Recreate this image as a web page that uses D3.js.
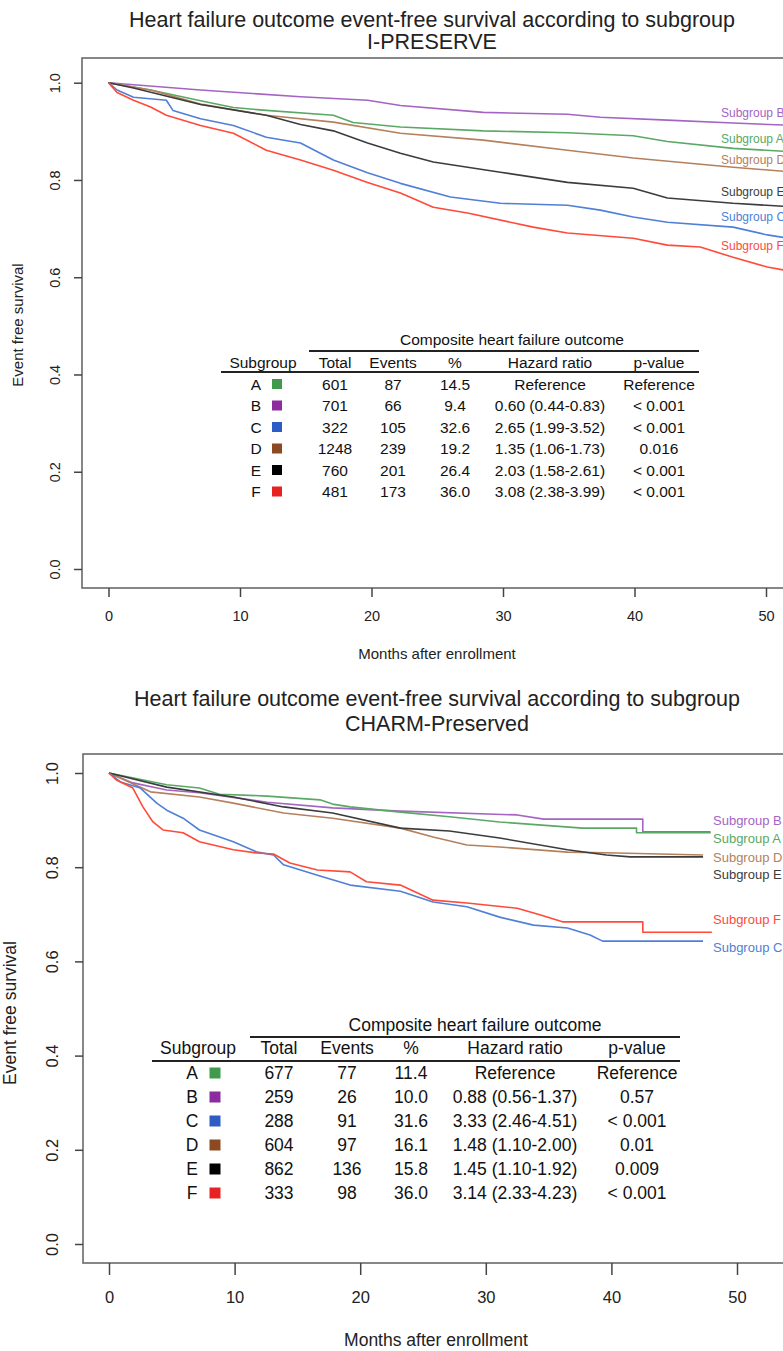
<!DOCTYPE html>
<html>
<head>
<meta charset="utf-8">
<script src="https://cdn.jsdelivr.net/npm/d3@7"></script>
<style>
  body { margin: 0; background: #fff; }
  svg { display: block; font-family: "Liberation Sans", Arial, sans-serif; }
</style>
</head>
<body>
<svg id="chart" width="783" height="1351"></svg>
<script>
// ---- data ----
var subgroups = ["A", "B", "C", "D", "E", "F"];
var xTicks = [0, 10, 20, 30, 40, 50];
var yTicks = [0.0, 0.2, 0.4, 0.6, 0.8, 1.0];
var tableCols = ["Subgroup", "Total", "Events", "%", "Hazard ratio", "p-value"];

// I-PRESERVE : [month, survival]
var ipA = [[0,1],[3.2,0.985],[7,0.963],[9.5,0.949],[12,0.943],[17.1,0.933],[18.6,0.918],[22.2,0.909],[28.5,0.901],[34.9,0.897],[39.9,0.891],[42.5,0.879],[47.5,0.865],[51.3,0.859],[52.5,0.857]];
var ipB = [[0,1],[7,0.985],[14.6,0.971],[19.7,0.964],[22.2,0.953],[28.5,0.939],[34.9,0.935],[37.4,0.929],[42.5,0.923],[47.5,0.917],[51.3,0.913],[52.5,0.912]];
var ipC = [[0,1],[0.65,0.985],[1.9,0.970],[4.4,0.964],[4.9,0.943],[7,0.926],[9.5,0.912],[12,0.888],[14.6,0.876],[17.1,0.841],[19.7,0.815],[22.2,0.793],[26,0.765],[29.8,0.752],[34.9,0.748],[37.4,0.738],[39.9,0.724],[42.5,0.713],[47.5,0.703],[50.1,0.687],[51.3,0.682],[52.5,0.680]];
var ipD = [[0,1],[3.2,0.985],[7,0.956],[12,0.933],[17.1,0.919],[22.2,0.896],[28.5,0.882],[34.9,0.861],[39.9,0.845],[47.5,0.826],[51.3,0.818],[52.5,0.816]];
var ipE = [[0,1],[1.9,0.989],[7,0.955],[12,0.933],[14.6,0.914],[17.1,0.901],[19.7,0.876],[22.2,0.855],[24.7,0.837],[29.8,0.816],[34.9,0.795],[39.9,0.783],[42.5,0.763],[47.5,0.752],[51.3,0.746],[52.5,0.745]];
var ipF = [[0,1],[0.65,0.980],[1.9,0.964],[3.2,0.950],[4.4,0.933],[7,0.912],[9.5,0.896],[12,0.861],[14.6,0.841],[17.1,0.820],[19.7,0.795],[22.2,0.773],[24.7,0.744],[27.3,0.732],[32.3,0.703],[34.9,0.691],[39.9,0.680],[42.5,0.666],[45,0.662],[47.5,0.641],[50.1,0.621],[51.3,0.615],[52.5,0.613]];

// CHARM-Preserved : [month, survival]
var chA = [[0,1],[4.6,0.975],[7.2,0.968],[8.8,0.955],[12.6,0.951],[16.8,0.943],[17.8,0.934],[19.2,0.928],[23.2,0.917],[27.1,0.907],[31.1,0.896],[37.7,0.883],[42,0.883],[42,0.873],[47.9,0.873]];
var chB = [[0,1],[1.9,0.979],[4.6,0.964],[7.2,0.958],[12.6,0.938],[17.8,0.926],[23.2,0.919],[32.5,0.911],[34.6,0.902],[42.5,0.902],[42.5,0.875],[47.9,0.875]];
var chC = [[0,1],[0.9,0.981],[2.5,0.968],[3.8,0.936],[4.6,0.921],[5.9,0.904],[7.2,0.879],[9.9,0.854],[11.8,0.832],[13.1,0.826],[13.9,0.805],[16.6,0.783],[19.2,0.762],[23.2,0.749],[25.8,0.726],[28.5,0.716],[31.1,0.694],[33.8,0.677],[36.5,0.671],[38.3,0.656],[39.3,0.643],[47.3,0.643]];
var chD = [[0,1],[3.3,0.960],[7.2,0.949],[9.9,0.936],[13.9,0.915],[17.8,0.904],[23.2,0.883],[25.8,0.864],[28.5,0.847],[31.1,0.843],[36.5,0.832],[40.4,0.830],[47.3,0.826]];
var chE = [[0,1],[4.6,0.970],[9.9,0.949],[13.9,0.928],[17.8,0.915],[23.2,0.883],[27.1,0.877],[31.1,0.862],[36.5,0.837],[39.6,0.826],[41.5,0.822],[47.3,0.822]];
var chF = [[0,1],[0.6,0.985],[1.9,0.968],[2.7,0.928],[3.5,0.896],[4.3,0.879],[5.9,0.873],[7.2,0.854],[9.9,0.837],[11.8,0.830],[13.1,0.828],[14.4,0.809],[16.6,0.794],[19.2,0.790],[20.5,0.769],[23.2,0.762],[25.8,0.730],[28.5,0.724],[32.5,0.713],[34.3,0.699],[36.1,0.684],[42.5,0.684],[42.5,0.662],[48,0.662]];

// table values
var ipTotal = [601, 701, 322, 1248, 760, 481];
var ipEvents = [87, 66, 105, 239, 201, 173];
var ipPct = ["14.5", "9.4", "32.6", "19.2", "26.4", "36.0"];
var ipHR = ["Reference", "0.60 (0.44-0.83)", "2.65 (1.99-3.52)", "1.35 (1.06-1.73)", "2.03 (1.58-2.61)", "3.08 (2.38-3.99)"];
var ipP = ["Reference", "< 0.001", "< 0.001", "0.016", "< 0.001", "< 0.001"];

var chTotal = [677, 259, 288, 604, 862, 333];
var chEvents = [77, 26, 91, 97, 136, 98];
var chPct = ["11.4", "10.0", "31.6", "16.1", "15.8", "36.0"];
var chHR = ["Reference", "0.88 (0.56-1.37)", "3.33 (2.46-4.51)", "1.48 (1.10-2.00)", "1.45 (1.10-1.92)", "3.14 (2.33-4.23)"];
var chP = ["Reference", "0.57", "< 0.001", "0.01", "0.009", "< 0.001"];

var lineColors = { A: "#5aa866", B: "#a464c4", C: "#4f7fd6", D: "#b5805c", E: "#3c3c3c", F: "#ff4a3a" };
var boxColors = { A: "#3f9a4c", B: "#8c2c9e", C: "#2c5cc4", D: "#8b4a22", E: "#000000", F: "#e82222" };

var svg = d3.select("#chart");
svg.append("rect").attr("width", 783).attr("height", 1351).attr("fill", "#fff");

function drawPanel(p) {
    var g = svg.append("g");
    var x = d3.scaleLinear().domain([0, 50]).range([p.x0, p.x50]);
    var y = d3.scaleLinear().domain([0, 1]).range([p.y0, p.y1]);

    // title
    g.append("text").attr("x", p.titleX).attr("y", p.titleY).attr("text-anchor", "middle")
        .attr("font-size", p.titleSize).attr("fill", "#222").text("Heart failure outcome event-free survival according to subgroup");
    g.append("text").attr("x", p.titleX).attr("y", p.titleY + p.titleGap).attr("text-anchor", "middle")
        .attr("font-size", p.titleSize).attr("fill", "#222").text(p.study);

    // box
    g.append("rect").attr("x", p.boxL).attr("y", p.boxT).attr("width", 800 - p.boxL).attr("height", p.boxB - p.boxT)
        .attr("fill", "none").attr("stroke", "#6a6a6a").attr("stroke-width", 1.6);

    // x axis
    var xa = g.append("g").attr("transform", "translate(0," + p.boxB + ")")
        .call(d3.axisBottom(x).tickValues(xTicks).tickSize(p.xTick).tickPadding(p.xPad).tickFormat(d3.format("d")));
    xa.select(".domain").remove();
    xa.selectAll("line").attr("stroke", "#444").attr("stroke-width", 1.5);
    xa.selectAll("text").attr("font-size", p.tickSize).attr("fill", "#222").attr("font-family", null);

    // y axis
    var ya = g.append("g").attr("transform", "translate(" + p.boxL + ",0)")
        .call(d3.axisLeft(y).tickValues(yTicks).tickSize(8).tickFormat(d3.format(".1f")));
    ya.select(".domain").remove();
    ya.selectAll("line").attr("stroke", "#444").attr("stroke-width", 1.5);
    ya.selectAll("text")
        .attr("x", null).attr("dy", null)
        .attr("transform", "translate(" + (p.yLabX - p.boxL) + ",0) rotate(-90)")
        .attr("text-anchor", "middle").attr("dominant-baseline", "central")
        .attr("font-size", p.tickSize).attr("fill", "#222").attr("font-family", null);

    // axis titles
    g.append("text").attr("x", p.xTitleX).attr("y", p.xTitleY).attr("text-anchor", "middle")
        .attr("dominant-baseline", "central").attr("font-size", p.axisSize).attr("fill", "#222")
        .text("Months after enrollment");
    g.append("text").attr("transform", "translate(" + p.yTitleX + "," + p.yTitleY + ") rotate(-90)")
        .attr("text-anchor", "middle").attr("dominant-baseline", "central")
        .attr("font-size", p.axisSize).attr("fill", "#222").text("Event free survival");

    // curves
    var line = d3.line().x(function(d) { return x(d[0]); }).y(function(d) { return y(d[1]); });
    var order = ["B", "A", "D", "E", "C", "F"];
    order.forEach(function(k) {
        g.append("path").datum(p.curves[k]).attr("d", line)
            .attr("fill", "none").attr("stroke", lineColors[k]).attr("stroke-width", 1.6)
            .attr("stroke-linejoin", "round");
    });
    order.forEach(function(k) {
        g.append("text").attr("x", p.labX).attr("y", p.labY[k]).attr("dominant-baseline", "central")
            .attr("font-size", p.labSize).attr("fill", lineColors[k]).text("Subgroup " + k);
    });

    // table
    var t = p.table;
    g.append("text").attr("x", t.headX).attr("y", t.headY).attr("text-anchor", "middle")
        .attr("dominant-baseline", "central").attr("font-size", t.size).attr("fill", "#111")
        .text("Composite heart failure outcome");
    g.append("line").attr("x1", t.rule1[0]).attr("x2", t.rule1[1]).attr("y1", t.rule1[2]).attr("y2", t.rule1[2])
        .attr("stroke", "#222").attr("stroke-width", 2.2);
    g.append("line").attr("x1", t.rule2[0]).attr("x2", t.rule2[1]).attr("y1", t.rule2[2]).attr("y2", t.rule2[2])
        .attr("stroke", "#222").attr("stroke-width", 2.2);
    tableCols.forEach(function(c, i) {
        g.append("text").attr("x", t.colX[i]).attr("y", t.colY).attr("text-anchor", "middle")
            .attr("dominant-baseline", "central").attr("font-size", t.size).attr("fill", "#111").text(c);
    });
    subgroups.forEach(function(s, r) {
        var ry = t.rowY + r * t.rowH;
        var cells = [t.total[r], t.events[r], t.pct[r], t.hr[r], t.p[r]];
        g.append("text").attr("x", t.letterX).attr("y", ry).attr("text-anchor", "middle")
            .attr("dominant-baseline", "central").attr("font-size", t.size).attr("fill", "#111").text(s);
        g.append("rect").attr("x", t.boxX - t.boxS / 2).attr("y", ry - t.boxS / 2)
            .attr("width", t.boxS).attr("height", t.boxS).attr("fill", boxColors[s]);
        cells.forEach(function(v, i) {
            g.append("text").attr("x", t.colX[i + 1]).attr("y", ry).attr("text-anchor", "middle")
                .attr("dominant-baseline", "central").attr("font-size", t.size).attr("fill", "#111").text(v);
        });
    });
}

drawPanel({
    study: "I-PRESERVE",
    titleX: 432, titleY: 27, titleGap: 22, titleSize: 21.5,
    boxL: 82, boxT: 58, boxB: 588,
    x0: 108.5, x50: 766, y0: 569, y1: 82.7,
    xTick: 9, xPad: 14, tickSize: 14.5, yLabX: 55,
    xTitleX: 437, xTitleY: 653, yTitleX: 17, yTitleY: 325, axisSize: 15,
    labX: 721, labSize: 12, labY: { B: 113, A: 139, D: 160, E: 192, C: 217, F: 246 },
    curves: { A: ipA, B: ipB, C: ipC, D: ipD, E: ipE, F: ipF },
    table: {
        size: 15.5, headX: 512, headY: 339, rule1: [309, 699, 351], rule2: [221, 699, 372],
        colX: [263, 335, 393, 455, 550, 659], colY: 362,
        rowY: 384, rowH: 21.5, letterX: 256, boxX: 277, boxS: 10,
        total: ipTotal, events: ipEvents, pct: ipPct, hr: ipHR, p: ipP
    }
});

drawPanel({
    study: "CHARM-Preserved",
    titleX: 437, titleY: 706, titleGap: 25, titleSize: 21.5,
    boxL: 83, boxT: 754, boxB: 1263,
    x0: 109, x50: 737, y0: 1244, y1: 773,
    xTick: 12, xPad: 16, tickSize: 16.5, yLabX: 52,
    xTitleX: 436, xTitleY: 1340, yTitleX: 10, yTitleY: 1013, axisSize: 17.5,
    labX: 713, labSize: 13, labY: { B: 820, A: 838, D: 857, E: 874, F: 919, C: 947 },
    curves: { A: chA, B: chB, C: chC, D: chD, E: chE, F: chF },
    table: {
        size: 17.5, headX: 475, headY: 1025, rule1: [250, 680, 1037], rule2: [152, 680, 1061],
        colX: [198, 279, 347, 411, 515, 637], colY: 1048,
        rowY: 1073, rowH: 24, letterX: 192, boxX: 215, boxS: 11,
        total: chTotal, events: chEvents, pct: chPct, hr: chHR, p: chP
    }
});
</script>
</body>
</html>
